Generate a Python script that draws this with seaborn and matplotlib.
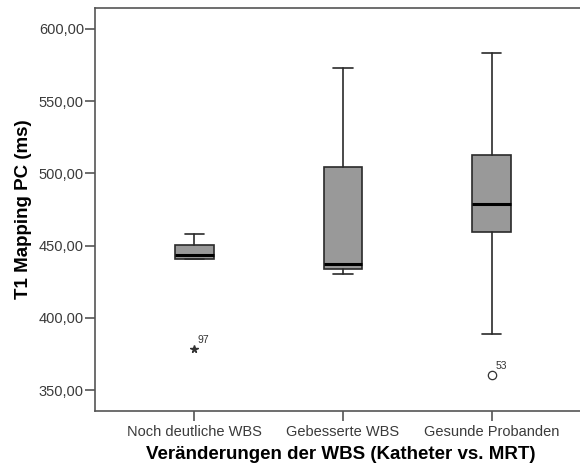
import matplotlib
matplotlib.use("Agg")
import matplotlib.pyplot as plt
import matplotlib.ticker as mticker
import seaborn as sns

sns.set_style("ticks")
plt.rcParams["font.family"] = ["Liberation Sans", "DejaVu Sans"]

# Summary statistics per group (T1 mapping, ms)
categories = ["Noch deutliche WBS", "Gebesserte WBS", "Gesunde Probanden"]
whisker_low = [440.5, 430.0, 388.8]
q1 = [440.5, 433.6, 459.6]
median = [443.5, 437.0, 478.6]
q3 = [450.4, 504.7, 512.7]
whisker_high = [458.0, 572.8, 583.2]
# Outliers: (group index, value, case id, kind)
outlier_group = [0, 2]
outlier_value = [378.4, 360.4]
outlier_case = ["97", "53"]
outlier_kind = ["extreme", "mild"]

yticks = [350, 400, 450, 500, 550, 600]

fig = plt.figure(figsize=(5.8, 4.68), dpi=100)
ax = fig.add_axes([95 / 580, 57.3 / 468, 1 - 95 / 580 + 0.01, (410.7 - 8) / 468])

stats = []
for i, name in enumerate(categories):
    stats.append(dict(label=name, whislo=whisker_low[i], q1=q1[i], med=median[i],
                      q3=q3[i], whishi=whisker_high[i], fliers=[]))

edge = "#2a2a2a"
ax.bxp(stats, positions=range(len(categories)), widths=0.26, capwidths=0.13,
       patch_artist=True, showfliers=False,
       boxprops=dict(facecolor="#999999", edgecolor=edge, linewidth=1.2),
       medianprops=dict(color="black", linewidth=2.2),
       whiskerprops=dict(color=edge, linewidth=1.2),
       capprops=dict(color=edge, linewidth=1.2))

for g, v, case, kind in zip(outlier_group, outlier_value, outlier_case, outlier_kind):
    if kind == "extreme":
        ax.plot(g, v, marker="*", color="#333333", markersize=5.5, linestyle="none")
    else:
        ax.plot(g, v, marker="o", markerfacecolor="white", markeredgecolor="#333333",
                markersize=6, markeredgewidth=0.9, linestyle="none")
    ax.annotate(case, (g, v), xytext=(2.5, 3), textcoords="offset points",
                fontsize=7.5, color="#333333", ha="left", va="bottom")

ax.set_xlim(-0.667, 2.633)
ax.set_ylim(335.7, 614.5)
ax.set_yticks(yticks)
ax.yaxis.set_major_formatter(mticker.FuncFormatter(lambda v, p: f"{v:.2f}".replace(".", ",")))
ax.set_xticks(range(len(categories)))
ax.set_xticklabels(categories)

for side in ["left", "top", "bottom"]:
    ax.spines[side].set_color("#555555")
    ax.spines[side].set_linewidth(1.2)
ax.spines["right"].set_visible(False)

ax.tick_params(axis="both", colors="#555555", labelcolor="#3a3a3a", labelsize=10.5,
               length=7, width=1.2, direction="out")
ax.tick_params(axis="y", pad=1)
ax.tick_params(axis="x", pad=3)

ax.set_xlabel("Veränderungen der WBS (Katheter vs. MRT)", fontsize=13.5, fontweight="bold",
              color="black", labelpad=5)
ax.set_ylabel("T1 Mapping PC (ms)", fontsize=13.5, fontweight="bold", color="black", labelpad=5)

fig.savefig("out.png", dpi=100)
